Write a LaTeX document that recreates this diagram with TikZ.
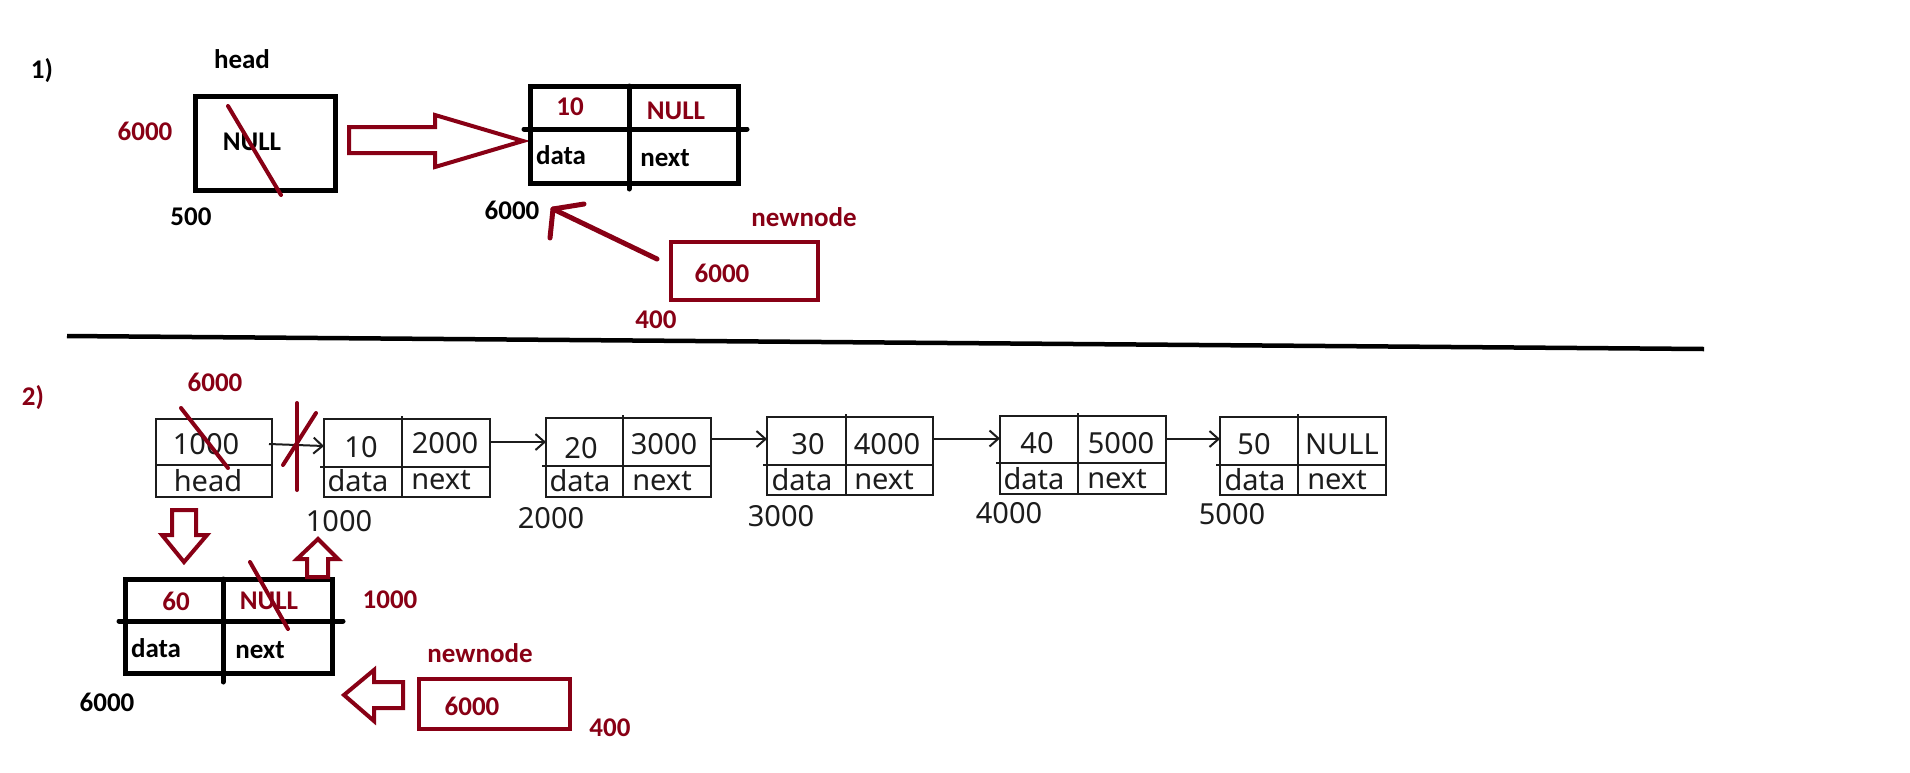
\documentclass[tikz,border=0pt]{standalone}
\usepackage{fontspec}
\setmainfont{Carlito}
\newfontfamily\listfont{Noto Sans}
\usetikzlibrary{arrows.meta}
\definecolor{pred}{RGB}{136,0,21}
\definecolor{lgray}{RGB}{28,28,28}
\tikzset{
  ptxt/.style={font=\bfseries\fontsize{27}{30}\selectfont, inner sep=0pt, text=black},
  ptred/.style={ptxt, text=pred},
  ltxt/.style={font=\listfont\fontsize{29}{32}\selectfont, inner sep=0pt, text=lgray},
  pbox/.style={draw=black, line width=5pt, line join=miter},
  pline/.style={draw=black, line width=5pt, line cap=round},
  predbox/.style={draw=pred, line width=4pt, line join=miter},
  harrow/.style={draw=pred, line width=4pt, line join=miter},
  slash/.style={draw=pred, line width=4pt, line cap=round},
  redarrow/.style={draw=pred, line width=5pt, line cap=round, line join=round},
  lbox/.style={draw=lgray, line width=2pt},
  larrow/.style={draw=lgray, line width=2pt, -{Straight Barb[length=9pt,width=16pt]}},
}
\newcommand{\mylnode}[9]{%
  \draw[lbox] (#2,#3) rectangle (#4,#5);
  \draw[lbox] (#6,#3-3) -- (#6,#5);
  \draw[lbox] (#2-4,#7) -- (#4,#7);
  \coordinate (#1w) at (#2,#8);
  \coordinate (#1e) at (#4,#9);
}
\begin{document}
\begin{tikzpicture}[x=1pt,y=-1pt]
\useasboundingbox (0,0) rectangle (1910,772);
\fill[white] (0,0) rectangle (1910,772);

% ---------- part 1 ----------
\node[ptxt] (lab1) at (42,71) {1)};
\node[ptxt] (headlbl) at (242,59) {head};
\draw[pbox] (195.5,96.5) rectangle (335.5,190.5);
\node[ptxt] (hnull) at (252,142) {NULL};
\node[ptred] (h6000) at (145,131) {6000};
\node[ptxt] (h500) at (191,217) {500};
\draw[slash] (228,106) -- (281,195);

\draw[harrow] (349,127) -- (435,127) -- (435,115) -- (523,141) -- (435,167) -- (435,153) -- (349,153) -- cycle;

\draw[pbox] (530.5,86.5) rectangle (738.5,183.5);
\draw[pline] (524,129) -- (747,129);
\draw[pline] (629,86) -- (629,189);
\node[ptred] (t10) at (570,106.5) {10};
\node[ptred] (tnull) at (676,111) {NULL};
\node[ptxt] (tdata) at (561,155) {data};
\node[ptxt] (tnext) at (665,158) {next};
\node[ptxt] (t6000) at (512,210) {6000};

\coordinate (rtip) at (553,209);
\coordinate (rtail) at (657,259);
\draw[redarrow] (rtail) -- (rtip);
\draw[redarrow] (584,204) -- (rtip) -- (550,238);

\draw[predbox] (671,242) rectangle (818,300);
\node[ptred] (nn1) at (722,273) {6000};
\node[ptred] (nnlbl1) at (804,217) {newnode};
\node[ptred] (n400a) at (656,320) {400};

% separator
\draw[line width=4.5pt] (67,336) -- (1704,349);

% ---------- part 2 ----------
\node[ptred] (lab2) at (33,398) {2)};
\node[ptred] (h2six) at (215,382) {6000};

% head box of list
\draw[lbox] (156,419) rectangle (272,497);
\draw[lbox] (156,465) -- (272,465);
\coordinate (hde) at (269,444);
\node[ltxt] (h1000) at (206,444) {1000};
\node[ltxt] (hhead) at (208,481) {head};

\mylnode{n1}{324}{419}{490}{497}{402}{467}{446}{442}
\mylnode{n2}{546}{418}{711}{497}{623}{466}{442}{439}
\mylnode{n3}{767}{417}{933}{495}{846}{465}{439}{438.5}
\mylnode{n4}{1000}{416}{1166}{494}{1078}{463}{438.5}{439}
\mylnode{n5}{1220}{417}{1386}{495}{1298}{465}{439}{439}

\node[ltxt] at (361,447) {10};
\node[ltxt] at (445,443) {2000};
\node[ltxt] at (358,481) {data};
\node[ltxt] at (441,480) {next};
\node[ltxt] at (339,521) {1000};

\node[ltxt] at (581,448) {20};
\node[ltxt] at (664,444) {3000};
\node[ltxt] at (580,481) {data};
\node[ltxt] at (662,481) {next};
\node[ltxt] at (551,518) {2000};

\node[ltxt] at (808,444) {30};
\node[ltxt] at (887,444) {4000};
\node[ltxt] at (802,480) {data};
\node[ltxt] at (884,480) {next};
\node[ltxt] at (781,516) {3000};

\node[ltxt] at (1037,443) {40};
\node[ltxt] at (1121,443) {5000};
\node[ltxt] at (1034,479) {data};
\node[ltxt] at (1117,479) {next};
\node[ltxt] at (1009,513) {4000};

\node[ltxt] at (1254,444) {50};
\node[ltxt] at (1342,444) {NULL};
\node[ltxt] at (1255,480) {data};
\node[ltxt] at (1337,480) {next};
\node[ltxt] at (1232,514) {5000};

\draw[larrow] (hde) -- (n1w);
\draw[larrow] (n1e) -- (n2w);
\draw[larrow] (n2e) -- (n3w);
\draw[larrow] (n3e) -- (n4w);
\draw[larrow] (n4e) -- (n5w);

% red strike-outs
\draw[slash] (181,408) -- (228,468);
\draw[slash] (297,403) -- (297,490);
\draw[slash] (283,465) -- (316,413);

% down arrow
\draw[harrow] (172,510) -- (196,510) -- (196,535) -- (207,535) -- (184,562) -- (162,535) -- (172,535) -- cycle;

% new node (bottom)
\draw[pbox] (125.5,579.5) rectangle (332.5,673.5);
\draw[pline] (119,621) -- (343,621);
\draw[pline] (223,579) -- (223,682);
\node[ptred] (b60) at (176,601) {60};
\node[ptred] (bnull) at (269,601) {NULL};
\node[ptxt] (bdata) at (156,648.5) {data};
\node[ptxt] (bnext) at (260,650) {next};
\draw[slash] (250,562) -- (288,629);
\node[ptxt] (b6000) at (107,702) {6000};

% up arrow
\draw[harrow] (307,577) -- (307,559) -- (297,559) -- (318,539) -- (338,559) -- (328,559) -- (328,577) -- cycle;
\node[ptred] (b1000) at (390,600) {1000};

% left arrow
\draw[harrow] (403,682) -- (374,682) -- (374,670) -- (344,695) -- (374,721) -- (374,708) -- (403,708) -- cycle;

\draw[predbox] (419,679) rectangle (570,729);
\node[ptred] (nnlbl2) at (480,653) {newnode};
\node[ptred] (nn2) at (472,706) {6000};
\node[ptred] (n400b) at (610,728) {400};
\end{tikzpicture}
\end{document}
